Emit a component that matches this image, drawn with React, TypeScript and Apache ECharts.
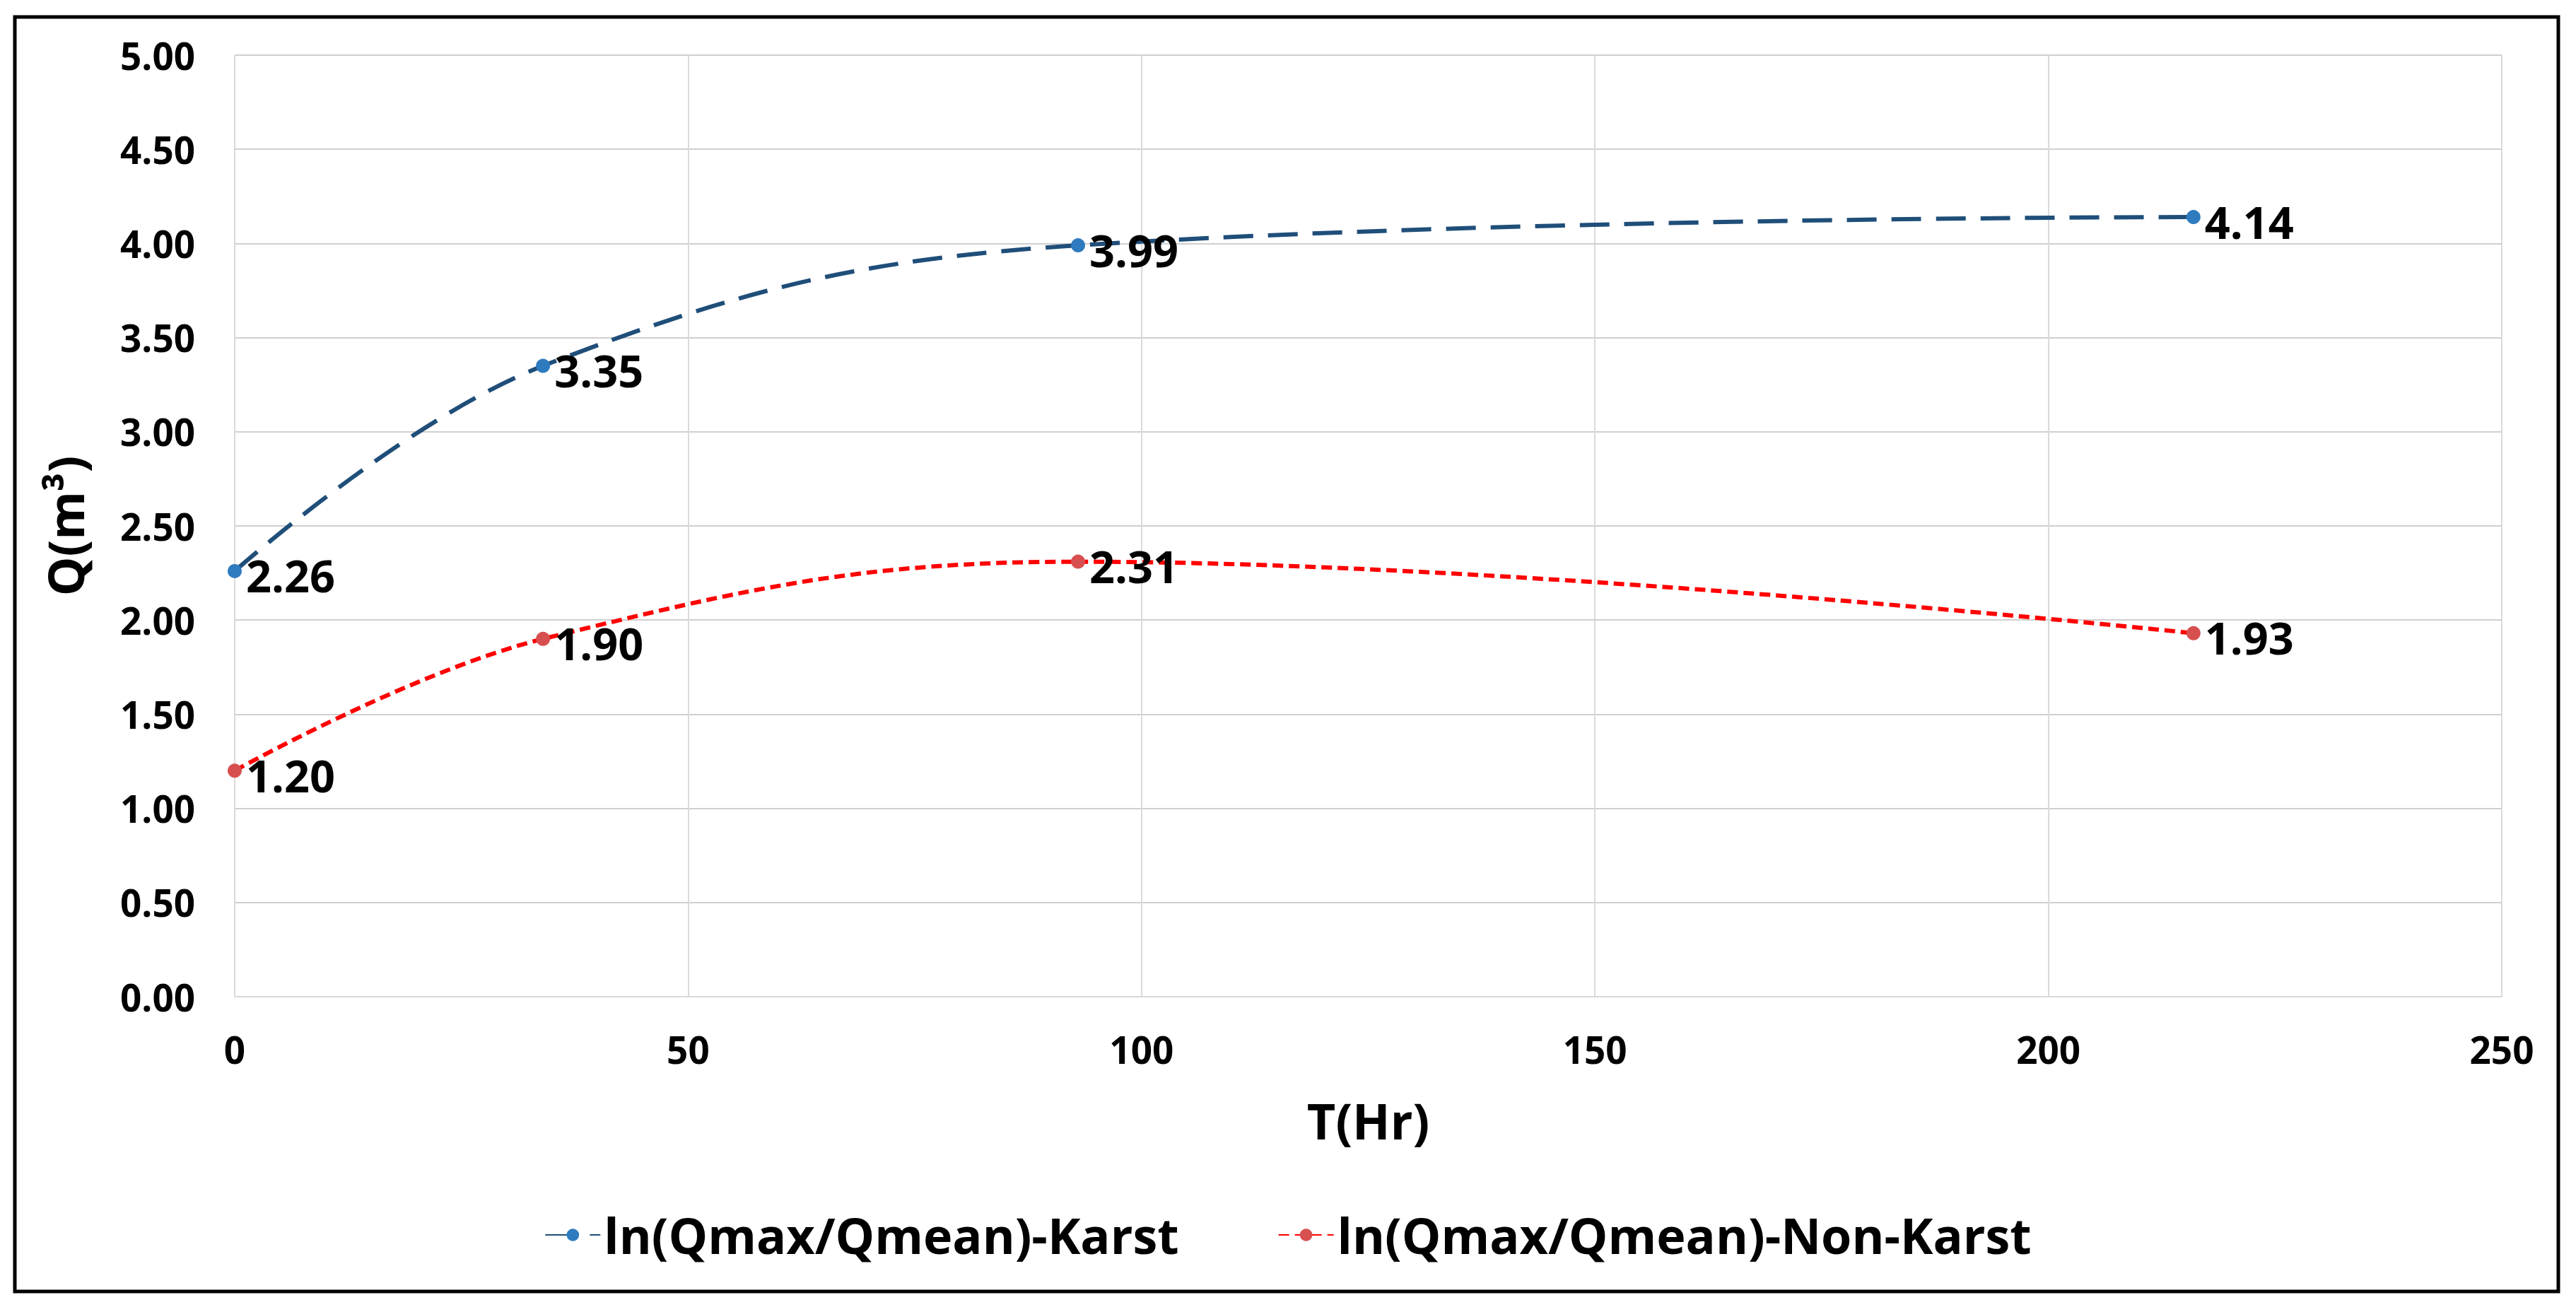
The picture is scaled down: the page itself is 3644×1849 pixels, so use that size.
import React, { useEffect, useRef } from "react";
import * as echarts from "echarts";

const hours = [0, 34, 93, 216];
const karst = [2.26, 3.35, 3.99, 4.14];
const nonKarst = [1.2, 1.9, 2.31, 1.93];
const seriesNames = ["ln(Qmax/Qmean)-Karst", "ln(Qmax/Qmean)-Non-Karst"];
const xTitle = "T(Hr)";
const yTitle = "Q(m³)";
const xRange = [0, 250, 50];
const yRange = [0, 5, 0.5];

const FONT = "Open Sans";

export default function App() {
  const ref = useRef<HTMLDivElement>(null);
  useEffect(() => {
    if (!ref.current) return;
    const chart = echarts.init(ref.current, null, { renderer: "svg" });
    const label = {
      show: true,
      position: "right",
      distance: 6,
      offset: [0, 6],
      color: "#000",
      fontFamily: FONT,
      fontWeight: "bold",
      fontSize: 63,
      formatter: (p: any) => Number(p.value[1]).toFixed(2),
    };
    chart.setOption({
      animation: false,
      backgroundColor: "#fff",
      textStyle: { fontFamily: FONT },
      grid: { left: 332, right: 105, top: 78, bottom: 439, containLabel: false },
      xAxis: {
        type: "value",
        min: xRange[0],
        max: xRange[1],
        interval: xRange[2],
        name: xTitle,
        nameLocation: "middle",
        nameGap: 140,
        nameTextStyle: { fontFamily: FONT, fontWeight: "bold", fontSize: 70, color: "#000" },
        axisLine: { show: true, lineStyle: { color: "#D9D9D9", width: 2 } },
        axisTick: { show: false },
        axisLabel: { fontFamily: FONT, fontWeight: "bold", fontSize: 53, color: "#000", margin: 48 },
        splitLine: { show: true, lineStyle: { color: "#DADADA", width: 2 } },
      },
      yAxis: {
        type: "value",
        min: yRange[0],
        max: yRange[1],
        interval: yRange[2],
        name: yTitle,
        nameLocation: "middle",
        nameGap: 205,
        nameRotate: 90,
        nameTextStyle: { fontFamily: FONT, fontWeight: "bold", fontSize: 70, color: "#000" },
        axisLine: { show: false },
        axisTick: { show: false },
        axisLabel: {
          fontFamily: FONT,
          fontWeight: "bold",
          fontSize: 53,
          color: "#000",
          margin: 56,
          formatter: (v: number) => v.toFixed(2),
        },
        splitLine: { show: true, lineStyle: { color: "#CFCFCF", width: 2 } },
      },
      legend: {
        bottom: 62,
        left: "center",
        itemWidth: 78,
        itemHeight: 22,
        itemGap: 140,
        textStyle: { fontFamily: FONT, fontWeight: "bold", fontSize: 70, color: "#000" },
        data: seriesNames,
      },
      series: [
        {
          name: seriesNames[0],
          type: "line",
          smooth: 0.4,
          data: hours.map((h, i) => [h, karst[i]]),
          symbol: "circle",
          symbolSize: 20,
          itemStyle: { color: "#2E7BC0" },
          lineStyle: { color: "#1F4E79", width: 6, type: [42, 21] },
          label,
        },
        {
          name: seriesNames[1],
          type: "line",
          smooth: 0.4,
          data: hours.map((h, i) => [h, nonKarst[i]]),
          symbol: "circle",
          symbolSize: 20,
          itemStyle: { color: "#D84F4F" },
          lineStyle: { color: "#FF0000", width: 6, type: [15, 8] },
          label,
        },
      ],
      graphic: [
        {
          type: "rect",
          shape: { x: 21, y: 24, width: 3598, height: 1803 },
          style: { fill: "none", stroke: "#000", lineWidth: 5 },
          silent: true,
        },
      ],
    });
    return () => chart.dispose();
  }, []);
  return (
    <div
      ref={ref}
      style={{ position: "absolute", left: 0, top: 0, width: 3644, height: 1849 }}
    />
  );
}
